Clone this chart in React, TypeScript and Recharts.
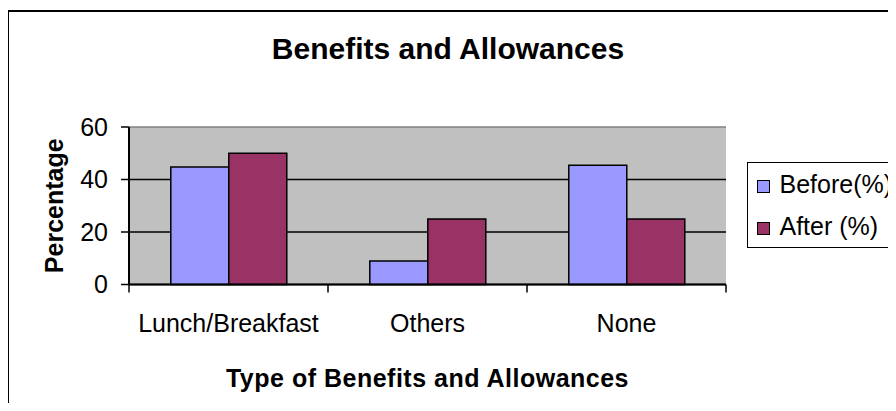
import React from 'react';
import { BarChart, Bar, XAxis, YAxis, CartesianGrid, Legend } from 'recharts';

const categories = ['Lunch/Breakfast', 'Others', 'None'];
const beforeValues = [44.8, 9, 45.4];
const afterValues = [50, 25, 25];
const yTicks = [0, 20, 40, 60];
const seriesNames = ['Before(%)', 'After (%)'];

const data = categories.map((cat, i) => ({ cat, before: beforeValues[i], after: afterValues[i] }));

const FONT = '"Liberation Sans", Arial, sans-serif';
const TICK_SIZE = 8;
const TICK_MARGIN = 22;

// category labels + tick marks on the category boundaries (excel style)
const CatTick = (p: any) => {
  const { x, y, payload, index, visibleTicksCount, width } = p;
  const half = payload.offset ? payload.offset : width / (2 * categories.length);
  const axisY = y - TICK_SIZE - TICK_MARGIN;
  return (
    <g>
      <line x1={x - half} x2={x - half} y1={axisY} y2={axisY + TICK_SIZE} stroke="#000" strokeWidth={1.5} />
      {index === visibleTicksCount - 1 && (
        <line x1={x + half} x2={x + half} y1={axisY} y2={axisY + TICK_SIZE} stroke="#000" strokeWidth={1.5} />
      )}
      <text x={x} y={y} dy="0.71em" textAnchor="middle" fontSize={25} fill="#000" fontFamily={FONT}>
        {payload.value}
      </text>
    </g>
  );
};

const gridLine = (p: any) => (
  <line
    key={p.key}
    x1={p.x1}
    y1={p.y1}
    x2={p.x2}
    y2={p.y2}
    stroke={p.index === yTicks.length - 1 ? '#808080' : '#000'}
    strokeWidth={1.5}
  />
);

const LegendBox = (props: any) => {
  // keep series order, recharts sorts by name otherwise
  const items = [...(props.payload || [])].sort(
    (a: any, b: any) => seriesNames.indexOf(a.value) - seriesNames.indexOf(b.value)
  );
  return (
    <div style={{ border: '1.5px solid #000', height: 84, background: '#fff', fontFamily: FONT, fontSize: 25, color: '#000' }}>
      {items.map((e: any) => (
        <div key={e.value} style={{ display: 'flex', alignItems: 'center', height: 42, lineHeight: '42px' }}>
          <span
            style={{
              display: 'inline-block',
              width: 11,
              height: 11,
              border: '1px solid #000',
              background: e.color,
              marginLeft: 8.5,
              marginRight: 10,
              marginTop: 4,
            }}
          />
          <span>{e.value}</span>
        </div>
      ))}
    </div>
  );
};

export default function App() {
  return (
    <div style={{ position: 'relative', width: 896, height: 411, margin: -8, overflow: 'hidden', background: '#fff', fontFamily: FONT }}>
      <div style={{ position: 'absolute', left: 7, top: 10, width: 950, height: 450, border: '2px solid #000' }} />
      <div style={{ position: 'absolute', left: 0, top: 0 }}>
        <BarChart
          width={896}
          height={411}
          data={data}
          margin={{ top: 127, right: 170, left: 29, bottom: 26.5 }}
          barCategoryGap="21%"
          barGap={0}
        >
          <CartesianGrid vertical={false} horizontal={gridLine} fill="#C0C0C0" fillOpacity={1} />
          <XAxis
            dataKey="cat"
            height={100}
            interval={0}
            tickLine={false}
            tickSize={TICK_SIZE}
            tickMargin={TICK_MARGIN}
            axisLine={{ stroke: '#000', strokeWidth: 2 }}
            tick={<CatTick />}
            label={{
              value: 'Type of Benefits and Allowances',
              position: 'insideBottom',
              offset: -2.5,
              fontSize: 25,
              fontWeight: 'bold',
              fill: '#000',
              fontFamily: FONT,
              style: { letterSpacing: 0.5 },
            }}
          />
          <YAxis
            width={100}
            domain={[0, 60]}
            ticks={yTicks}
            interval={0}
            tickSize={TICK_SIZE}
            tickMargin={13}
            tickLine={{ stroke: '#000', strokeWidth: 1.5 }}
            axisLine={{ stroke: '#000', strokeWidth: 2 }}
            tick={{ fontSize: 25, fill: '#000', fontFamily: FONT }}
            label={{
              value: 'Percentage',
              angle: -90,
              position: 'insideLeft',
              offset: 25,
              fontSize: 25,
              fontWeight: 'bold',
              fill: '#000',
              fontFamily: FONT,
              style: { textAnchor: 'middle' },
            }}
          />
          <YAxis
            yAxisId="r"
            orientation="right"
            width={0}
            domain={[0, 60]}
            tick={false}
            tickLine={false}
            axisLine={{ stroke: '#808080', strokeWidth: 1.5 }}
          />
          <Legend
            layout="vertical"
            align="center"
            verticalAlign="middle"
            content={<LegendBox />}
            wrapperStyle={{ left: 747, top: 162, width: 170, margin: 0 }}
          />
          <Bar dataKey="before" name={seriesNames[0]} fill="#9999FF" stroke="#000" strokeWidth={1.5} isAnimationActive={false} />
          <Bar dataKey="after" name={seriesNames[1]} fill="#993366" stroke="#000" strokeWidth={1.5} isAnimationActive={false} />
        </BarChart>
      </div>
      <div
        style={{
          position: 'absolute',
          left: 0,
          top: 33.6,
          width: 896,
          textAlign: 'center',
          fontSize: 30,
          fontWeight: 'bold',
          lineHeight: '30px',
          color: '#000',
        }}
      >
        Benefits and Allowances
      </div>
    </div>
  );
}
